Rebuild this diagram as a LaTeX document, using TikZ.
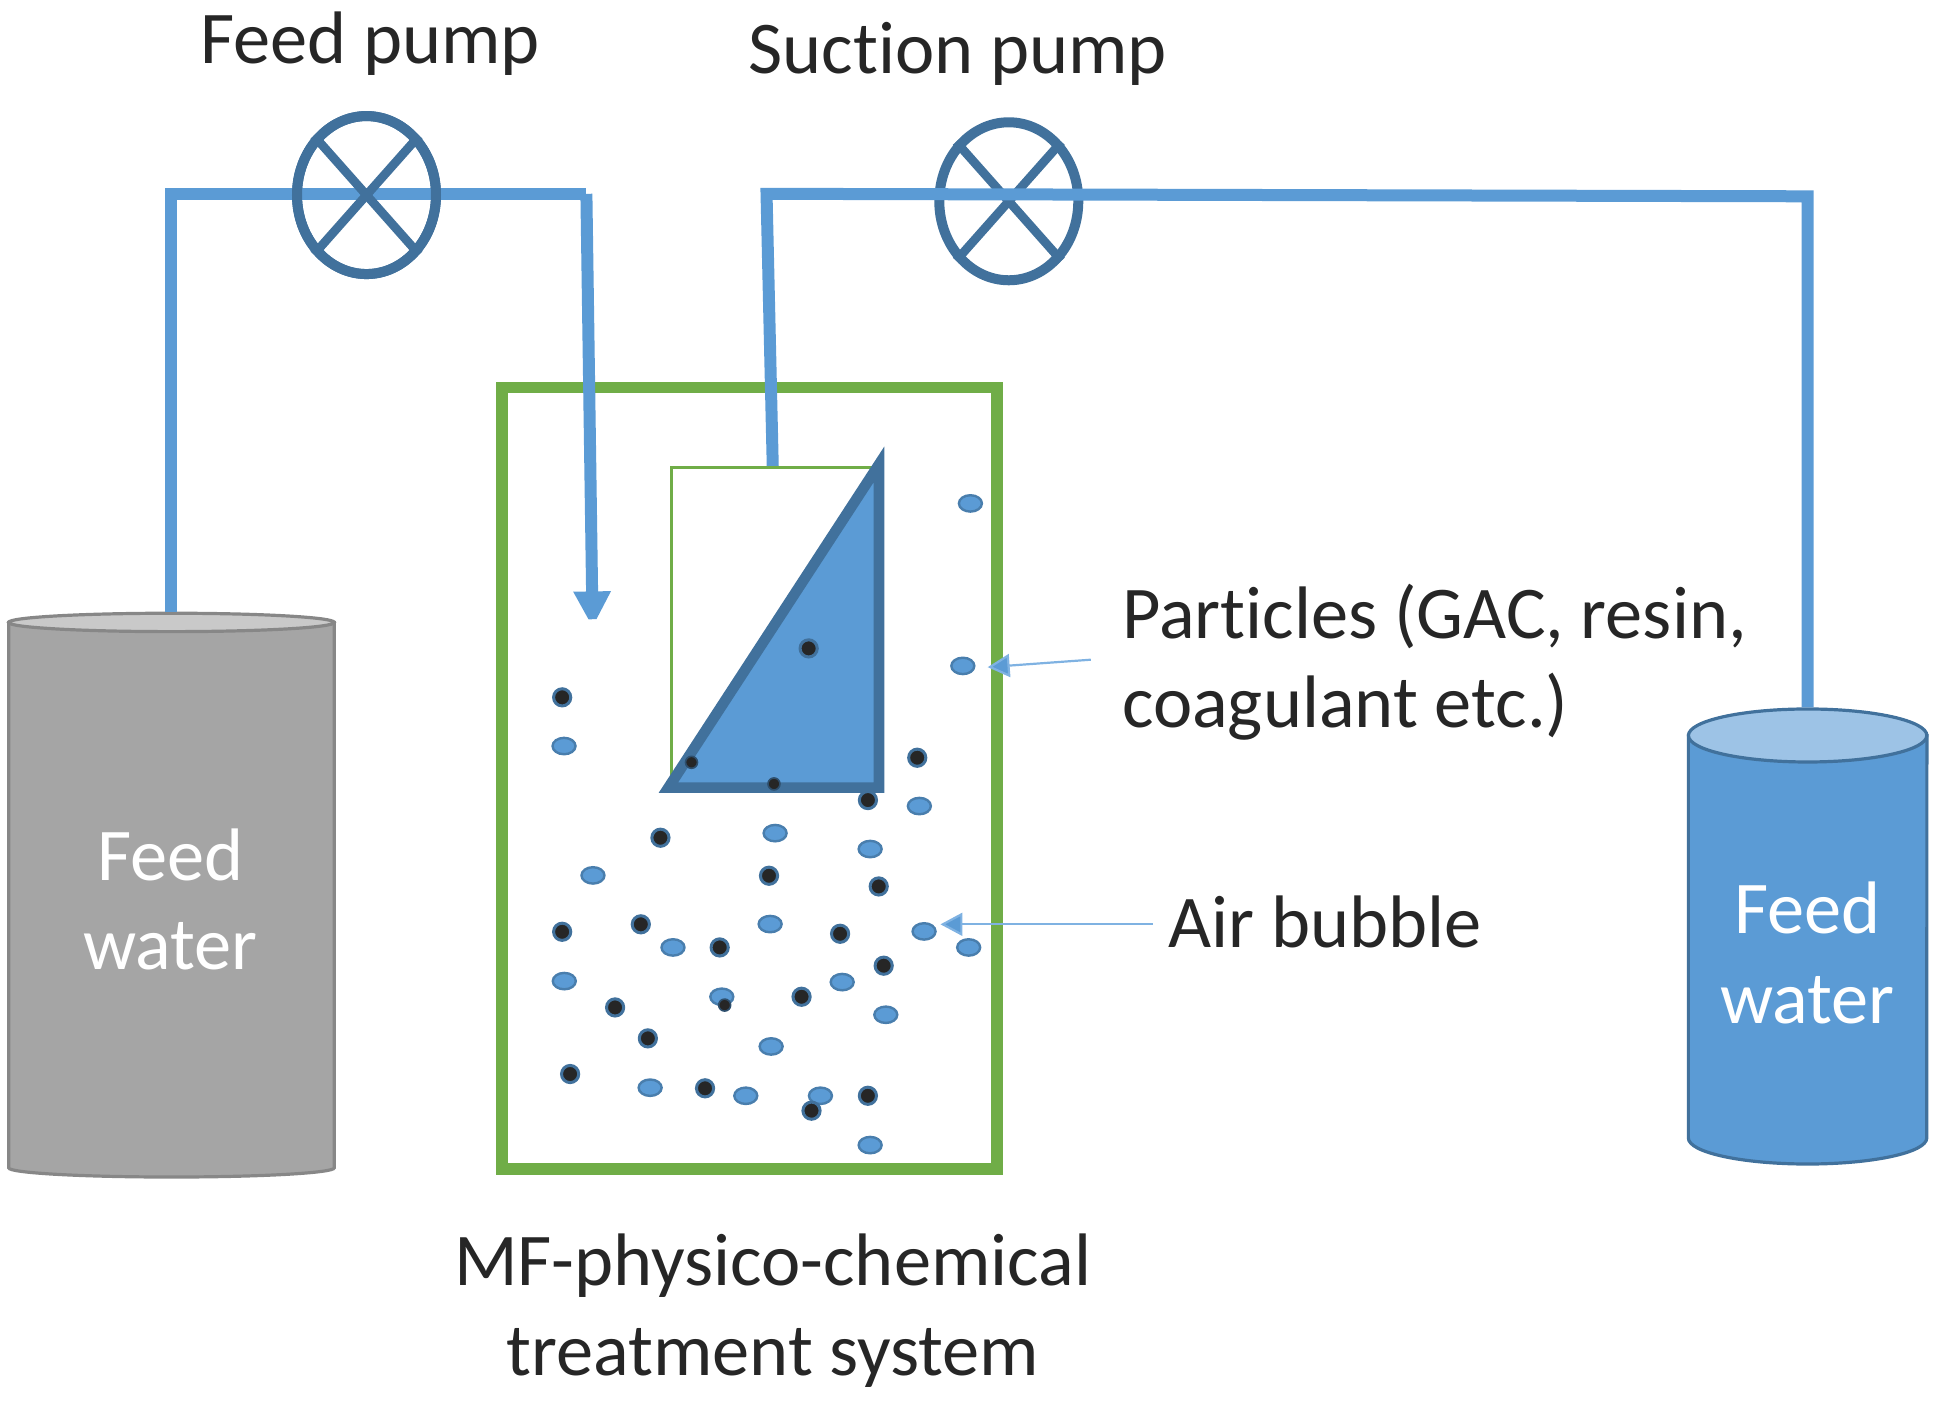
\documentclass[tikz,border=0pt]{standalone}
\usepackage{fontspec}
\setmainfont[Ligatures=NoCommon]{Carlito}
\usetikzlibrary{arrows.meta,shapes.geometric}
\definecolor{pipeblue}{HTML}{5B9BD5}
\definecolor{lineblue}{HTML}{41719C}
\definecolor{boxgreen}{HTML}{70AD47}
\definecolor{inkdark}{HTML}{262626}
\definecolor{thinblue}{HTML}{7FB2E2}
\definecolor{greybody}{HTML}{A5A5A5}
\definecolor{greyend}{HTML}{C9C9C9}
\definecolor{greyline}{HTML}{878787}
\definecolor{blueend}{HTML}{9DC3E6}
\tikzset{
  x=0.62115pt,y=-0.62115pt,
  pipe/.style={draw=pipeblue,line width=6pt,miter limit=2},
  pumpshape/.style={ellipse,draw=lineblue,line width=5pt,inner sep=0pt,minimum width=69.5pt,minimum height=79pt},
  pumpcross/.style={draw=lineblue,line width=4.4pt},
  label/.style={font=\fontsize{37.2}{44.7}\selectfont,text=inkdark,inner sep=0pt},
  tanklabel/.style={font=\fontsize{37.2}{44.7}\selectfont,text=white,inner sep=0pt,align=center},
  bubble/.style={ellipse,draw=lineblue!70!pipeblue,fill=pipeblue,line width=1.2pt,inner sep=0pt,minimum width=11.5pt,minimum height=8.2pt},
  particle/.style={circle,draw=lineblue,fill=inkdark,line width=1.5pt,inner sep=0pt,minimum size=8.6pt},
  smallparticle/.style={circle,fill=inkdark,draw=lineblue!70!black,line width=.8pt,inner sep=0pt,minimum size=6pt},
  thinarrow/.style={draw=thinblue,line width=1.1pt,-{Triangle[width=11.5pt,length=11pt,fill=pipeblue]}},
  tanktop/.style={ellipse,inner sep=0pt,line width=1.6pt},
}
\begin{document}
\begin{tikzpicture}
\useasboundingbox (0,0) rectangle (1568,1127);
% reactor
\node[draw=boxgreen,line width=5.8pt,minimum width=247.5pt,minimum height=390.7pt,inner sep=0pt] (reactor) at (603.5,626.5) {};
\node[draw=boxgreen,line width=1.7pt,minimum width=104pt,minimum height=160pt,inner sep=0pt,anchor=north west] (housing) at (539,375) {};
\draw[fill=pipeblue,draw=lineblue,line width=5.3pt,miter limit=10] (538,634) coordinate (memA) -- (707.5,373.8) coordinate (memB) -- (707.5,634) coordinate (memC) -- cycle;
% tanks
\draw[draw=greyline,line width=1.6pt,fill=greybody] (7,501) -- (7,940) arc[start angle=180,end angle=360,x radius=81.4pt,y radius=4.6pt] -- (269,501) -- cycle;
\node[tanktop,draw=greyline,fill=greyend,minimum width=162.8pt,minimum height=9.2pt] (greytop) at (138,501) {};
\draw[draw=lineblue,line width=1.6pt,fill=pipeblue] (1359,592) -- (1359,916) arc[start angle=180,end angle=360,x radius=59.6pt,y radius=13pt] -- (1551,592) -- cycle;
\node[tanktop,draw=lineblue,fill=blueend,minimum width=119.2pt,minimum height=26.5pt] (bluetop) at (1455,592) {};
% pumps
\node[pumpshape] (pumpA) at (295,157) {};
\node[pumpshape] (pumpB) at (812,162) {};
\coordinate (pipeAleft) at (138,156);
\coordinate (pipeAright) at (472,156);
\coordinate (pipeAend) at (477,505);
\coordinate (pipeBleft) at (617,156);
\coordinate (pipeBright) at (1455,158);
\coordinate (pipeBfoot) at (622,375);
\draw[pipe] (greytop.north) -- (pipeAleft) -- (pipeAright);
\draw[pipe,-{Triangle[width=17.5pt,length=18pt]}] (pipeAright) -- (pipeAend);
% pump A sits above its pipe
\node[pumpshape] at (pumpA) {};
\draw[pumpcross] (pumpA.north west) -- (pumpA.south east);
\draw[pumpcross] (pumpA.north east) -- (pumpA.south west);
\draw[pumpcross] (pumpB.north west) -- (pumpB.south east);
\draw[pumpcross] (pumpB.north east) -- (pumpB.south west);
% pipe B runs above its pump
\draw[pipe] (pipeBfoot) -- (pipeBleft) -- (pipeBright) -- (bluetop.north);
% bubbles
\foreach \i/\p/\q in {1/781.1/405.2,2/775/536,3/454/600.5,4/740/648.8,5/623.9/670.6,6/700.4/683.4,7/477.3/704.6,8/541.7/762.6,9/619.9/743.8,10/743.8/749.7,11/779.7/762.6,12/454.2/789.7,13/581/802.3,14/677.9/790.5,15/713/816.8,16/620.7/842.3,17/523.3/875.5,18/600.3/882,19/660.4/882,20/700.4/921.7}
  \node[bubble] (bub\i) at (\p,\q) {};
% particles
\foreach \i/\p/\q in {1/650.9/521.9,2/452.5/561.3,3/738.3/609.9,4/698.6/644,5/531.6/674.3,6/619/704.9,7/707.3/713.5,8/452.5/750,9/515.8/744,10/579.3/762.6,11/676.2/751.6,12/711.3/777.3,13/645.2/802.3,14/495.1/810.9,15/521.5/835.8,16/458.9/864.5,17/567.5/876,18/653.2/894,19/698.6/882}
  \node[particle] (par\i) at (\p,\q) {};
\foreach \i/\p/\q in {1/556.6/613.6,2/623/631,3/583.3/809}
  \node[smallparticle] (spar\i) at (\p,\q) {};
% text
\node[label] (lblfeedpump) at (298,35) {Feed pump};
\node[label] (lblsuction) at (771,43) {Suction pump};
\node[label,anchor=west,align=left] (lblparticles) at (903,533) {Particles (GAC, resin,\\coagulant etc.)};
\node[label,anchor=west] (lblair) at (940,742) {Air bubble};
\node[label,align=center] (lblsystem) at (622,1055) {MF-physico-chemical\\treatment system};
\node[tanklabel] (lblgrey) at (137,724) {Feed\\water};
\node[tanklabel] (lblblue) at (1455,767) {Feed\\water};
\coordinate (partarrowtail) at (878,531);
\coordinate (airarrowtail) at (928,744);
\draw[thinarrow] (partarrowtail) -- (795,537);
\draw[thinarrow] (airarrowtail) -- (757,744);
\end{tikzpicture}
\end{document}
